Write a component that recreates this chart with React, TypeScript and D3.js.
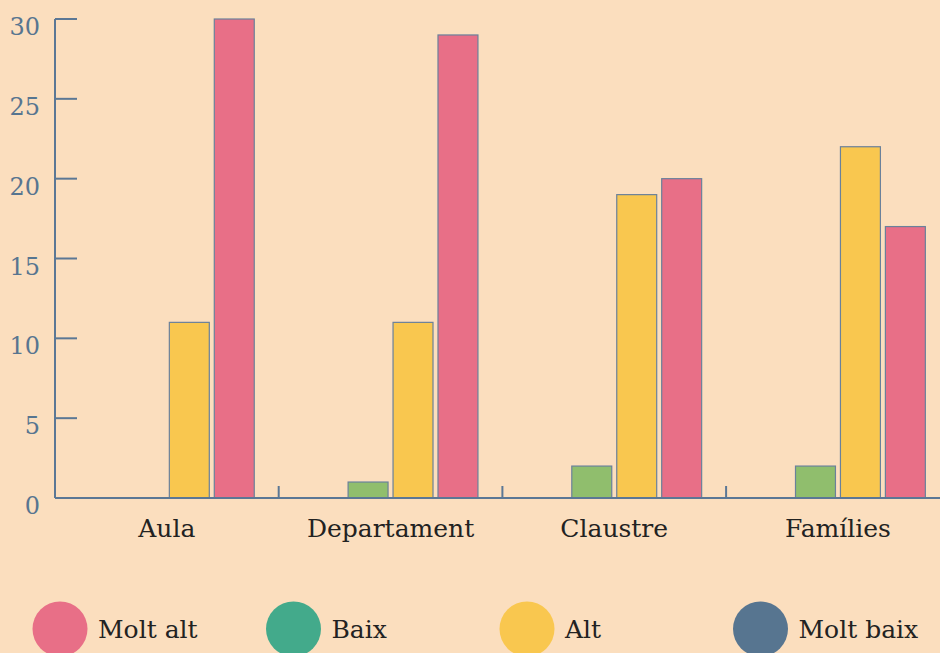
import { scaleBand, scaleLinear } from "d3";

const categories = ["Aula", "Departament", "Claustre", "Famílies"];
const seriesNames = ["Molt baix", "Baix", "Alt", "Molt alt"];
const moltBaix = [0, 0, 0, 0];
const baix = [0, 1, 2, 2];
const alt = [11, 11, 19, 22];
const moltAlt = [30, 29, 20, 17];
const yTicks = [0, 5, 10, 15, 20, 25, 30];
const legendOrder = ["Molt alt", "Baix", "Alt", "Molt baix"];

const barColors: Record<string, string> = {
  "Molt baix": "#577590",
  Baix: "#90be6d",
  Alt: "#f9c74f",
  "Molt alt": "#e86f87",
};
const legendColors: Record<string, string> = {
  "Molt baix": "#577590",
  Baix: "#43aa8b",
  Alt: "#f9c74f",
  "Molt alt": "#e86f87",
};

const values: Record<string, number[]> = {
  "Molt baix": moltBaix,
  Baix: baix,
  Alt: alt,
  "Molt alt": moltAlt,
};

const width = 940;
const height = 653;
const left = 55;
const bottom = 498;
const top = 19;
const font = "'DejaVu Serif', serif";
const axisColor = "#5b7795";

export default function App() {
  const x0 = scaleBand<string>().domain(categories).range([left, left + 4 * 223.7]);
  const x1 = scaleBand<string>()
    .domain(seriesNames)
    .range([0, x0.bandwidth()])
    .paddingInner(0.111)
    .paddingOuter(0.544);
  const y = scaleLinear().domain([0, 30]).range([bottom, top]);

  return (
    <div style={{ position: "fixed", left: 0, top: 0, width, height, background: "#fbdebe" }}>
      <svg width={width} height={height} style={{ display: "block" }}>
        {categories.map((cat, i) => (
          <g key={cat}>
            {seriesNames.map((s) => {
              const v = values[s][i];
              return (
                <rect
                  key={s}
                  x={(x0(cat) ?? 0) + (x1(s) ?? 0)}
                  y={y(v)}
                  width={x1.bandwidth()}
                  height={bottom - y(v)}
                  fill={barColors[s]}
                  stroke="#6a819b"
                  strokeWidth={1.2}
                />
              );
            })}
            <text
              x={(x0(cat) ?? 0) + x0.bandwidth() / 2}
              y={537}
              textAnchor="middle"
              fontFamily={font}
              fontSize={25}
              fill="#222"
            >
              {cat}
            </text>
          </g>
        ))}

        {/* x axis */}
        <line x1={left} x2={width} y1={bottom} y2={bottom} stroke={axisColor} strokeWidth={2} />
        {categories.slice(1).map((cat) => (
          <line
            key={cat}
            x1={x0(cat) ?? 0}
            x2={x0(cat) ?? 0}
            y1={bottom}
            y2={bottom - 12}
            stroke={axisColor}
            strokeWidth={2}
          />
        ))}

        {/* y axis */}
        <line x1={left} x2={left} y1={top} y2={bottom} stroke={axisColor} strokeWidth={2} />
        {yTicks.map((t) => (
          <g key={t}>
            <line x1={left} x2={left + 22} y1={y(t)} y2={y(t)} stroke={axisColor} strokeWidth={2} />
            <text
              x={40}
              y={y(t) + 16}
              textAnchor="end"
              fontFamily={font}
              fontSize={24}
              fill="#577590"
            >
              {t}
            </text>
          </g>
        ))}

        {/* legend */}
        {legendOrder.map((s, i) => {
          const cx = 60 + i * 233.5;
          return (
            <g key={s}>
              <circle cx={cx} cy={629} r={27.5} fill={legendColors[s]} />
              <text x={cx + 38} y={638} fontFamily={font} fontSize={25} fill="#222">
                {s}
              </text>
            </g>
          );
        })}
      </svg>
    </div>
  );
}
